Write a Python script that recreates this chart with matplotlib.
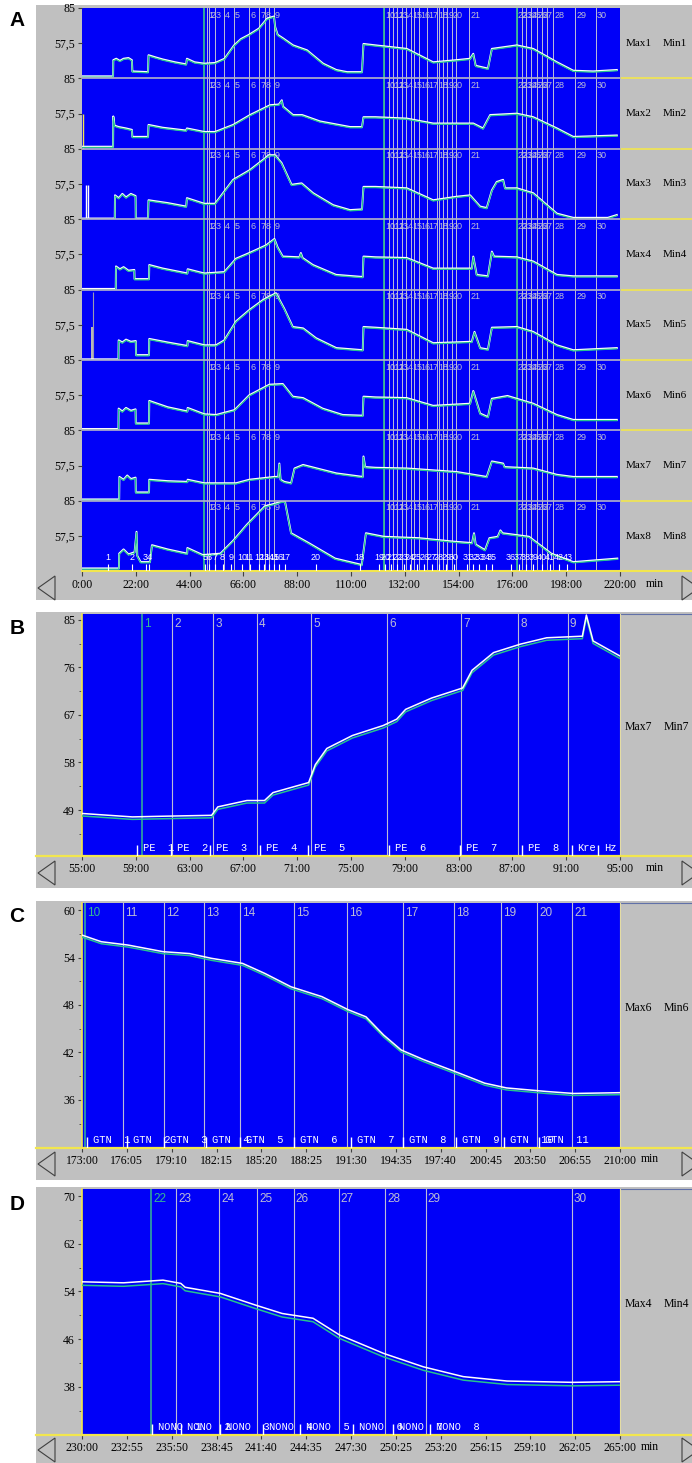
import matplotlib.pyplot as plt
from matplotlib.patches import Rectangle, Polygon
from matplotlib.transforms import offset_copy

plt.rcParams['font.family'] = ['Liberation Serif', 'DejaVu Serif']

# ---------------- panel A: eight channels, whole run (min, fraction of strip) ----------------
A1_t = [0, 12.7, 12.8, 14.0, 15.5, 17.0, 19.0, 20.4, 20.6, 27.0, 27.2, 30.0, 33.0, 38.0, 42.6, 42.9, 46.0,
        50.0, 54.4, 58.3, 62.2, 65.0, 68.3, 72.4, 75.7, 78.5, 79.0, 80.0, 82.2, 86.3, 92.0, 98.6, 104.0,
        108.4, 114.5, 115.1, 120.0, 132.8, 143.6, 153.2, 158.7, 160.0, 161.0, 166.0, 167.6, 177.8, 184.5,
        194.2, 200.9, 209.0, 218.7]
A1_f = [0.03, 0.03, 0.26, 0.28, 0.25, 0.28, 0.29, 0.26, 0.10, 0.09, 0.33, 0.30, 0.27, 0.23, 0.20, 0.28, 0.23,
        0.21, 0.22, 0.28, 0.47, 0.56, 0.62, 0.71, 0.85, 0.88, 0.73, 0.62, 0.57, 0.47, 0.40, 0.21, 0.12,
        0.09, 0.09, 0.49, 0.47, 0.42, 0.23, 0.26, 0.28, 0.35, 0.18, 0.14, 0.42, 0.47, 0.42,
        0.23, 0.11, 0.10, 0.12]

A2_t = [0, 12.7, 12.8, 13.3, 15.0, 18.0, 20.4, 20.6, 27.0, 27.2, 33.0, 42.6, 42.9, 50.0, 54.4, 61.8, 68.7,
        76.9, 80.5, 81.7, 82.2, 86.3, 90.0, 97.3, 109.6, 114.5, 115.1, 120.0, 132.8, 143.6, 160.0, 164.0,
        166.9, 177.8, 184.5, 194.2, 200.9, 218.7]
A2_f = [0.03, 0.03, 0.46, 0.33, 0.31, 0.29, 0.27, 0.17, 0.17, 0.34, 0.30, 0.26, 0.29, 0.24, 0.24, 0.34, 0.48,
        0.62, 0.63, 0.69, 0.60, 0.48, 0.48, 0.39, 0.31, 0.31, 0.45, 0.45, 0.43, 0.36, 0.36, 0.29,
        0.48, 0.50, 0.45, 0.29, 0.17, 0.19]

A3_t = [0, 13.4, 13.5, 15.0, 16.5, 18.0, 20.0, 21.9, 22.0, 27.0, 27.2, 35.0, 42.6, 42.9, 50.0, 54.4, 61.8,
        68.7, 76.5, 78.9, 81.6, 85.7, 89.8, 94.5, 102.7, 109.6, 114.5, 115.1, 120.0, 132.8, 143.6, 153.2,
        158.7, 162.8, 165.5, 167.6, 169.6, 172.2, 173.0, 177.8, 184.5, 194.2, 200.9, 215.0, 218.7]
A3_f = [0.01, 0.01, 0.34, 0.30, 0.36, 0.31, 0.36, 0.33, 0.01, 0.01, 0.27, 0.23, 0.18, 0.30, 0.22, 0.22, 0.56,
        0.70, 0.91, 0.91, 0.80, 0.49, 0.51, 0.37, 0.20, 0.13, 0.14, 0.46, 0.46, 0.44, 0.27, 0.32,
        0.34, 0.18, 0.16, 0.41, 0.53, 0.56, 0.44, 0.44, 0.37, 0.08, 0.02, 0.02, 0.06]

A4_t = [0, 13.8, 13.9, 15.5, 17.0, 19.0, 21.4, 21.5, 27.4, 27.5, 33.0, 43.1, 43.2, 50.0, 58.2, 63.0, 68.4,
        75.3, 78.7, 80.0, 82.1, 88.9, 89.5, 90.2, 94.4, 103.9, 114.8, 115.1, 120.0, 132.8, 143.6, 159.4,
        160.0, 161.4, 166.0, 167.6, 168.5, 177.8, 184.5, 194.2, 200.9, 218.7]
A4_f = [0.01, 0.01, 0.33, 0.29, 0.32, 0.27, 0.28, 0.15, 0.15, 0.35, 0.30, 0.23, 0.29, 0.23, 0.25, 0.44, 0.52,
        0.63, 0.72, 0.60, 0.47, 0.46, 0.52, 0.45, 0.35, 0.21, 0.18, 0.47, 0.46, 0.45, 0.30, 0.30,
        0.47, 0.21, 0.19, 0.54, 0.47, 0.46, 0.40, 0.21, 0.19, 0.19]

A5_t = [0, 14.9, 15.0, 16.5, 18.0, 20.0, 22.0, 22.1, 27.4, 27.5, 35.0, 43.1, 43.2, 50.0, 54.8, 58.2, 63.0,
        68.4, 73.9, 79.3, 82.7, 86.2, 90.4, 95.7, 104.0, 114.8, 115.1, 120.0, 132.8, 143.6, 159.4, 160.5,
        162.8, 166.0, 167.6, 177.8, 184.5, 194.2, 200.9, 218.7]
A5_f = [0.01, 0.01, 0.28, 0.25, 0.29, 0.26, 0.27, 0.07, 0.07, 0.30, 0.25, 0.20, 0.27, 0.21, 0.21, 0.28, 0.55,
        0.71, 0.85, 0.95, 0.73, 0.47, 0.45, 0.31, 0.17, 0.14, 0.47, 0.46, 0.43, 0.24, 0.26, 0.40,
        0.17, 0.15, 0.46, 0.47, 0.40, 0.21, 0.14, 0.17]

A6_t = [0, 14.9, 15.0, 16.5, 18.0, 20.0, 21.9, 22.0, 27.4, 27.5, 35.0, 43.1, 43.2, 50.0, 54.8, 62.4, 68.4,
        76.6, 82.1, 86.2, 90.4, 98.4, 106.6, 114.8, 115.1, 120.0, 132.8, 143.6, 158.7, 160.0, 162.8,
        166.0, 167.6, 174.0, 177.8, 184.5, 194.2, 200.9, 218.7]
A6_f = [0.02, 0.02, 0.31, 0.27, 0.32, 0.28, 0.30, 0.10, 0.10, 0.42, 0.33, 0.27, 0.32, 0.23, 0.22, 0.29, 0.50,
        0.65, 0.66, 0.48, 0.46, 0.31, 0.22, 0.21, 0.48, 0.47, 0.46, 0.35, 0.38, 0.56, 0.24,
        0.19, 0.45, 0.49, 0.45, 0.38, 0.22, 0.15, 0.15]

A7_t = [0, 15.2, 15.3, 17.0, 18.5, 20.0, 21.9, 22.0, 27.4, 27.5, 35.0, 43.1, 43.2, 50.0, 63.0, 68.4, 78.7,
        80.2, 80.7, 81.2, 82.7, 85.5, 86.9, 90.4, 104.0, 114.8, 115.1, 115.8, 120.0, 132.8, 153.2, 165.5,
        167.6, 172.2, 172.8, 184.5, 194.2, 200.9, 218.7]
A7_f = [0.02, 0.02, 0.34, 0.30, 0.36, 0.31, 0.33, 0.12, 0.12, 0.30, 0.28, 0.27, 0.30, 0.25, 0.25, 0.30, 0.34,
        0.34, 0.53, 0.30, 0.27, 0.25, 0.46, 0.51, 0.39, 0.34, 0.63, 0.48, 0.47, 0.46, 0.41, 0.34,
        0.56, 0.53, 0.48, 0.46, 0.37, 0.34, 0.34]

A8_t = [0, 15.1, 15.2, 17.0, 19.0, 21.5, 22.3, 22.6, 24.0, 25.0, 27.8, 28.6, 35.0, 43.0, 43.1, 49.4, 56.6,
        62.0, 67.4, 74.7, 81.9, 83.0, 85.5, 92.7, 103.5, 114.4, 116.1, 123.4, 137.8, 152.2, 159.5, 160.3,
        161.0, 164.8, 166.6, 170.0, 171.1, 172.0, 182.8, 191.9, 200.9, 218.9]
A8_f = [0.04, 0.04, 0.25, 0.31, 0.24, 0.27, 0.56, 0.22, 0.13, 0.13, 0.13, 0.37, 0.31, 0.25, 0.33, 0.23, 0.25,
        0.44, 0.66, 0.92, 0.99, 0.99, 0.54, 0.40, 0.18, 0.09, 0.54, 0.49, 0.47, 0.42, 0.40, 0.54,
        0.38, 0.30, 0.47, 0.49, 0.58, 0.54, 0.49, 0.25, 0.13, 0.18]

A_times = [A1_t, A2_t, A3_t, A4_t, A5_t, A6_t, A7_t, A8_t]
A_fracs = [A1_f, A2_f, A3_f, A4_f, A5_f, A6_f, A7_f, A8_f]

# spikes at the very start of channels 3 and 5
A3_spike_t = [1.7, 2.5]
A3_spike_top = 0.49
A5_bar_t = 4.3
A5_bar_top = 0.47
A5_line_top = 0.97

# event markers (numbered vertical lines)
A_marks = [51.1, 52.0, 54.4, 58.1, 62.2, 68.4, 72.4, 74.8, 78.5,
           123.5, 125.6, 127.2, 128.8, 130.9, 134.6, 137.8, 141.1, 145.2, 147.6, 151.3, 158.3,
           177.8, 179.8, 181.6, 183.5, 186.0, 188.0, 192.8, 201.7, 210.1]
A_mark_lbl = [str(i) for i in range(1, 31)]
A_green_marks = [49.9, 123.5, 177.8]
A_extra_marks = [76.6, 132.5, 135.8, 146.0, 149.3, 153.0, 190.1]

# bottom event ticks of channel 8
A_ev_t = [10.6, 20.6, 26.0, 27.6, 50.2, 52.0, 54.5, 57.5, 61.0, 65.5, 68.5, 72.5, 74.5, 76.5, 78.5, 80.5, 83.0,
          95.5, 113.5, 121.5,
          124.0, 126.5, 129.0, 131.5, 134.0, 137.0, 140.0, 143.0, 146.0, 149.0, 152.0,
          157.5, 160.0, 162.5, 165.0, 167.5,
          175.5, 178.5, 181.5, 184.5, 188.0, 191.5, 195.0, 198.5]
A_ev_lbl = [str(i) for i in range(1, 18)] + ['20', '18', '19'] + [str(i) for i in range(20, 44)]

A_xt = [0, 22, 44, 66, 88, 110, 132, 154, 176, 198, 220]
A_xtl = ['0:00', '22:00', '44:00', '66:00', '88:00', '110:00', '132:00', '154:00', '176:00', '198:00', '220:00']

# ---------------- panel B: channel 7, 55-95 min ----------------
B_t = [55.0, 58.74, 60.5, 62.5, 64.63, 65.1, 67.26, 68.57, 69.2, 71.85, 72.35, 73.2, 75.1, 77.4, 78.4, 79.06,
       81.0, 83.3, 84.0, 85.6, 87.6, 89.55, 92.2, 92.5, 93.0, 94.96]
B_v = [48.35, 47.7, 47.8, 47.9, 48.0, 49.6, 50.8, 50.8, 52.3, 54.2, 57.6, 60.65, 63.1, 65.0, 66.2, 68.05,
       70.2, 72.1, 75.45, 78.8, 80.4, 81.6, 81.9, 85.9, 81.0, 78.2]
B_marks = [59.46, 61.7, 64.77, 68.0, 72.05, 77.7, 83.2, 87.45, 91.1]
B_mark_lbl = ['1', '2', '3', '4', '5', '6', '7', '8', '9']
B_ev = [59.07, 61.6, 64.5, 68.2, 71.8, 77.8, 83.1, 87.7, 91.4, 93.4]
B_ev_lbl = ['PE  1', 'PE  2', 'PE  3', 'PE  4', 'PE  5', 'PE  6', 'PE  7', 'PE  8', 'Kre', 'Hz']
B_yt = [49, 58, 67, 76, 85]
B_ymin = [44.5, 53.5, 62.5, 71.5, 80.5]
B_xt = [55, 59, 63, 67, 71, 75, 79, 83, 87, 91, 95]
B_xtl = ['55:00', '59:00', '63:00', '67:00', '71:00', '75:00', '79:00', '83:00', '87:00', '91:00', '95:00']

# ---------------- panel C: channel 6, 173-210 min ----------------
C_t = [173.0, 174.33, 176.16, 178.58, 180.4, 181.9, 184.04, 185.56, 187.37, 189.5, 191.3, 192.53, 193.74,
       194.95, 196.47, 198.9, 200.7, 202.2, 204.96, 206.8, 210.0]
C_v = [56.84, 56.0, 55.58, 54.74, 54.5, 53.9, 53.26, 52.0, 50.3, 49.05, 47.4, 46.5, 44.2,
       42.3, 41.1, 39.4, 38.1, 37.5, 37.05, 36.8, 36.9]
C_marks = [173.18, 175.8, 178.67, 181.4, 183.9, 187.6, 191.2, 195.05, 198.6, 201.8, 204.3, 206.7]
C_mark_lbl = ['10', '11', '12', '13', '14', '15', '16', '17', '18', '19', '20', '21']
C_ev = [173.33, 176.1, 178.67, 181.5, 183.9, 187.6, 191.5, 195.1, 198.7, 202.0, 204.4]
C_ev_lbl = ['GTN  ' + str(i) for i in range(1, 12)]
C_yt = [36, 42, 48, 54, 60]
C_ymin = [33, 39, 45, 51, 57]
C_xt = [173.0, 176.083, 179.167, 182.25, 185.333, 188.417, 191.5, 194.583, 197.667, 200.75, 203.833,
        206.917, 210.0]
C_xtl = ['173:00', '176:05', '179:10', '182:15', '185:20', '188:25', '191:30', '194:35', '197:40', '200:45',
         '203:50', '206:55', '210:00']

# ---------------- panel D: channel 4, 230-265 min ----------------
D_t = [230.0, 232.7, 235.27, 236.43, 236.71, 239.0, 241.3, 243.02, 245.03, 246.75, 249.62, 252.2, 254.8,
       257.65, 261.94, 265.0]
D_v = [55.62, 55.45, 55.9, 55.35, 54.7, 53.67, 51.7, 50.3, 49.5, 46.7, 43.6, 41.35, 39.7,
       38.96, 38.74, 38.85]
D_marks = [234.5, 236.14, 238.92, 241.39, 243.77, 246.7, 249.74, 252.35, 261.87]
D_mark_lbl = ['22', '23', '24', '25', '26', '27', '28', '29', '30']
D_ev = [234.56, 236.43, 239.0, 241.79, 244.17, 247.6, 250.2, 252.64]
D_ev_lbl = ['NONO  ' + str(i) for i in range(1, 9)]
D_yt = [38, 46, 54, 62, 70]
D_ymin = [34, 42, 50, 58, 66]
D_xt = [230.0, 232.917, 235.833, 238.75, 241.667, 244.583, 247.5, 250.417, 253.333, 256.25, 259.167,
        262.083, 265.0]
D_xtl = ['230:00', '232:55', '235:50', '238:45', '241:40', '244:35', '247:30', '250:25', '253:20', '256:15',
         '259:10', '262:05', '265:00']

# ---------------- styling ----------------
W, H = 692, 1463
BLUE = '#0000f8'
GRAY = '#c0c0c0'
GREEN = '#26c28e'
MARK = '#bcbcd6'
TEAL = '#36b894'
YELLOW = '#f2e64e'
SEP = '#b4b4c8'
DARK = '#404040'

fig = plt.figure(figsize=(W / 100, H / 100), dpi=100)
bg = fig.add_axes([0, 0, 1, 1], zorder=0)
bg.set_xlim(0, W)
bg.set_ylim(H, 0)
bg.axis('off')
fg = fig.add_axes([0, 0, 1, 1], zorder=20)
fg.set_xlim(0, W)
fg.set_ylim(H, 0)
fg.axis('off')


def px_axes(x0, y0, x1, y1):
    return fig.add_axes([x0 / W, 1 - y1 / H, (x1 - x0) / W, (y1 - y0) / H], zorder=5)


def shifted(trans, dx=0, dy=0):
    return offset_copy(trans, fig=fig, x=dx, y=dy, units='dots')


def frame(y0, y1, letter, letter_y, arrow_y, min_x, label_y):
    bg.add_patch(Rectangle((36, y0), W - 36, y1 - y0, color=GRAY, lw=0))
    fg.text(17, letter_y, letter, fontsize=15, fontweight='bold', family='Liberation Sans',
            ha='center', va='center')
    fg.add_patch(Polygon([(55, arrow_y - 12), (38, arrow_y), (55, arrow_y + 12)], closed=True,
                         facecolor=GRAY, edgecolor=DARK, lw=0.8))
    fg.add_patch(Polygon([(682, arrow_y - 12), (699, arrow_y), (682, arrow_y + 12)], closed=True,
                         facecolor=GRAY, edgecolor=DARK, lw=0.8, clip_on=False))
    fg.text(min_x, label_y, 'min', fontsize=8.5, va='center', ha='left')


# ---------------- panel A ----------------
frame(5, 600, 'A', 21, 588, 646, 584)
A_top, A_bot = 8, 571.2
strip_h = (A_bot - A_top) / 8
for k in range(8):
    y0 = A_top + k * strip_h
    ax = px_axes(82, y0, 620, y0 + strip_h)
    ax.set_facecolor(BLUE)
    ax.set_xlim(0, 220)
    ax.set_ylim(0, 1)
    for s in ax.spines.values():
        s.set_visible(False)
    if k > 0:
        ax.axhline(1, color=SEP, lw=1.2, clip_on=False, zorder=4)
    for m in A_marks + A_extra_marks:
        ax.axvline(m, color=MARK, lw=0.7, zorder=1)
    for m in A_green_marks:
        ax.axvline(m, color=TEAL, lw=1.3, zorder=1)
    for m, lbl in zip(A_marks, A_mark_lbl):
        ax.text(m, 0.9, lbl, transform=shifted(ax.get_xaxis_transform(), dx=1), color=MARK,
                fontsize=6.5, family='Liberation Sans', ha='left', va='center', zorder=2)
    if k == 1:
        ax.vlines(0.4, 0, 0.5, color=YELLOW, lw=1)
    if k == 2:
        ax.vlines(A3_spike_t, 0, A3_spike_top, color='white', lw=1)
    if k == 4:
        ax.bar(A5_bar_t, A5_bar_top, width=1.2, color='#b8b8b8', zorder=2)
        ax.vlines(A5_bar_t, 0, A5_line_top, color='#9a9ab0', lw=0.8, zorder=2)
    ax.plot(A_times[k], A_fracs[k], color='white', lw=1.4, zorder=3)
    ax.plot(A_times[k], A_fracs[k], color=GREEN, lw=0.9, zorder=3,
            transform=shifted(ax.transData, dy=-0.8))
    ax.set_yticks([1, 0.5])
    ax.set_yticklabels(['85', '57,5'])
    ax.tick_params(axis='y', length=3, color=DARK, labelsize=8.5, pad=2)
    if k == 7:
        ax.vlines(A_ev_t, 0, 0.1, color='white', lw=0.8, zorder=3)
        for e, lbl in zip(A_ev_t, A_ev_lbl):
            ax.text(e, 0.19, lbl, color='white', fontsize=6.5, family='Liberation Sans',
                    ha='center', va='center', zorder=3)
        ax.set_xticks(A_xt)
        ax.set_xticklabels(A_xtl)
        ax.tick_params(axis='x', length=3.5, color=DARK, labelsize=8.5, pad=2)
        ax.spines['bottom'].set_visible(True)
        ax.spines['bottom'].set_color(YELLOW)
        ax.spines['bottom'].set_linewidth(1.5)
    else:
        ax.set_xticks([])
    yc = y0 + strip_h / 2
    bg.text(626, yc, 'Max%d' % (k + 1), fontsize=8, va='center')
    bg.text(663, yc, 'Min%d' % (k + 1), fontsize=8, va='center')
    if k < 7:
        bg.plot([620, W], [y0 + strip_h] * 2, color=YELLOW, lw=1.2)
fg.plot([620, W], [A_bot, A_bot], color=YELLOW, lw=1.5)


# ---------------- panels B, C, D ----------------
def detail(py0, py1, xlim, ylim, yt, ymin, xt, xtl, t, v, dy, marks, mlbl, ev, evl, chan, lab_y):
    ax = px_axes(82, py0, 620, py1)
    ax.set_facecolor(BLUE)
    ax.set_xlim(*xlim)
    ax.set_ylim(*ylim)
    ax.spines['top'].set_visible(False)
    ax.spines['right'].set_color('#e4dca4')
    ax.spines['left'].set_color(YELLOW)
    ax.spines['bottom'].set_color(YELLOW)
    ax.spines['bottom'].set_linewidth(1.6)
    ax.spines['left'].set_linewidth(1.2)
    for i, m in enumerate(marks):
        ax.axvline(m, color=TEAL if i == 0 else MARK, lw=1.1 if i == 0 else 0.8, zorder=1)
        ax.text(m, 0.985, mlbl[i], transform=shifted(ax.get_xaxis_transform(), dx=2),
                color=TEAL if i == 0 else MARK, fontsize=8.5, family='Liberation Sans',
                ha='left', va='top', zorder=2)
    ax.plot(t, v, color=GREEN, lw=1.1, zorder=3, transform=shifted(ax.transData, dy=-dy))
    ax.plot(t, v, color='white', lw=1.1, zorder=3)
    ax.vlines(ev, 0, 0.045, transform=ax.get_xaxis_transform(), color='white', lw=1, zorder=3)
    for e, lbl in zip(ev, evl):
        ax.text(e, 0.034, lbl, transform=shifted(ax.get_xaxis_transform(), dx=6), color='white',
                fontsize=7.5, family='Liberation Mono', ha='left', va='center', zorder=3)
    ax.set_yticks(yt)
    ax.set_yticks(ymin, minor=True)
    ax.set_xticks(xt)
    ax.set_xticklabels(xtl)
    ax.tick_params(which='both', length=3, color=DARK, labelsize=8.5, pad=2)
    ax.tick_params(which='minor', length=2)
    bg.plot([36, 82], [py1, py1], color=YELLOW, lw=1.6)
    bg.plot([620, W], [py1, py1], color=YELLOW, lw=1.6)
    bg.plot([620, W], [py0, py0], color='#6070a8', lw=0.8)
    bg.text(625, lab_y, 'Max%d' % chan, fontsize=8.5, va='center')
    bg.text(664, lab_y, 'Min%d' % chan, fontsize=8.5, va='center')
    return ax


frame(612, 888, 'B', 628, 873, 646, 868)
detail(614, 856, (55, 95), (40.3, 86.1), B_yt, B_ymin, B_xt, B_xtl, B_t, B_v, 2.5,
       B_marks, B_mark_lbl, B_ev, B_ev_lbl, 7, 727)

frame(901, 1180, 'C', 916, 1164, 641, 1159)
detail(903, 1148, (173, 210), (29.9, 60.9), C_yt, C_ymin, C_xt, C_xtl, C_t, C_v, 2.0,
       C_marks, C_mark_lbl, C_ev, C_ev_lbl, 6, 1008)

frame(1187, 1463, 'D', 1205, 1450, 641, 1447)
detail(1189, 1435, (230, 265), (29.9, 71.2), D_yt, D_ymin, D_xt, D_xtl, D_t, D_v, 3.5,
       D_marks, D_mark_lbl, D_ev, D_ev_lbl, 4, 1304)

fig.savefig('out.png', dpi=100)
